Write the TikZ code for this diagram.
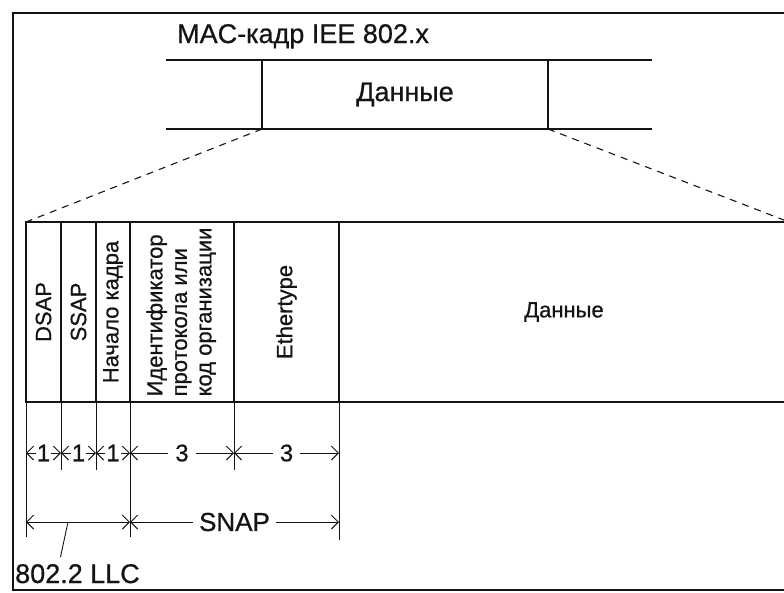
\documentclass[tikz,border=0pt]{standalone}
\usepackage{graphicx}
\usepackage{fontspec}
\setmainfont{Liberation Sans}[FakeBold=0.7]
\usepackage{tikz}
\usetikzlibrary{arrows.meta,positioning}
\definecolor{frInk}{HTML}{141414}
\tikzset{
  fr diagram/.style={x=1pt, y=-1pt, text=frInk, draw=frInk},
  fr frame/.style={draw=frInk, line width=2pt},
  fr band/.style={draw=frInk, line width=2pt, inner sep=0pt, outer sep=0pt,
    minimum width=286pt, minimum height=69pt, font=\fontsize{27}{29}\selectfont},
  fr field/.style={draw=frInk, line width=1.9pt, inner sep=0pt, outer sep=0pt,
    minimum height=180pt, font=\fontsize{22}{24.5}\selectfont},
  fr cut/.style={draw=frInk, line width=1.1pt, dash pattern=on 7pt off 6pt},
  fr ext/.style={draw=frInk, line width=0.9pt},
  fr dim/.style={{Straight Barb[length=7pt,width=14pt]}-{Straight Barb[length=7pt,width=14pt]},
    draw=frInk, line width=0.9pt},
  fr dim label/.style={fill=white, inner sep=1pt, font=\fontsize{24}{26}\selectfont},
  fr text/.style={inner sep=0pt, anchor=base west, font=\fontsize{27}{29}\selectfont}
}

\begin{document}
\begin{tikzpicture}[fr diagram]
\useasboundingbox (0,0) rectangle (784,592);
% outer frame (open to the right)
\draw[fr frame] (784,13) -- (13,13) -- (13,590) -- (784,590);

% MAC frame
\node[fr text] (title) at (177,43) {MAC-кадр IEE 802.x};
\node[fr band] (macdata) at (405,94.5) {Данные};
\draw[fr frame] ([xshift=-96pt]macdata.north west) -- ([xshift=104pt]macdata.north east);
\draw[fr frame] ([xshift=-96pt]macdata.south west) -- ([xshift=104pt]macdata.south east);

% SNAP fields
\node[fr field, minimum width=35pt, anchor=north west] (dsap) at (26,222) {\rotatebox{90}{DSAP}};
\node[fr field, minimum width=35pt, right=0pt of dsap] (ssap) {\rotatebox{90}{SSAP}};
\node[fr field, minimum width=34pt, right=0pt of ssap] (start) {\rotatebox{90}{Начало кадра}};
\node[fr field, minimum width=104pt, right=0pt of start] (ident)
  {\rotatebox{90}{\begin{tabular}{@{}l@{}}Идентификатор\\протокола или\\код организации\end{tabular}}};
\node[fr field, minimum width=105pt, right=0pt of ident] (ethtype) {\rotatebox{90}{Ethertype}};
\node[fr field, minimum width=450pt, right=0pt of ethtype, font=\fontsize{22}{24}\selectfont] (data) {Данные};

\draw[fr cut] (macdata.south west) -- (dsap.north west);
\draw[fr cut] (macdata.south east) -- (data.north east);

% dimension lines
\foreach \f/\i/\len in {dsap/0/135, ssap/1/68, start/2/68, ident/3/135, ethtype/4/68, data/5/138}{
  \draw[fr ext] (\f.south west) -- ++(0,\len);
  \path (\f.south west) ++(0,51) coordinate (m\i) ++(0,69) coordinate (n\i);
}
\draw[fr dim] (m0) -- node[fr dim label] {1} (m1);
\draw[fr dim] (m1) -- node[fr dim label] {1} (m2);
\draw[fr dim] (m2) -- node[fr dim label] {1} (m3);
\draw[fr dim] (m3) -- node[fr dim label, inner xsep=7pt] {3} (m4);
\draw[fr dim] (m4) -- node[fr dim label, inner xsep=7pt] {3} (m5);
\draw[fr dim] (n0) -- (n3);
\draw[fr dim] (n3) -- node[fr dim label, inner xsep=6pt, font=\fontsize{26}{28}\selectfont] {SNAP} (n5);

\path (n0) ++(42,0) coordinate (llcpt);
\node[fr text] (llc) at (15,583) {802.2 LLC};
\draw[fr ext] (llcpt) -- ([xshift=-17pt,yshift=7pt]llc.north);
\end{tikzpicture}
\end{document}
